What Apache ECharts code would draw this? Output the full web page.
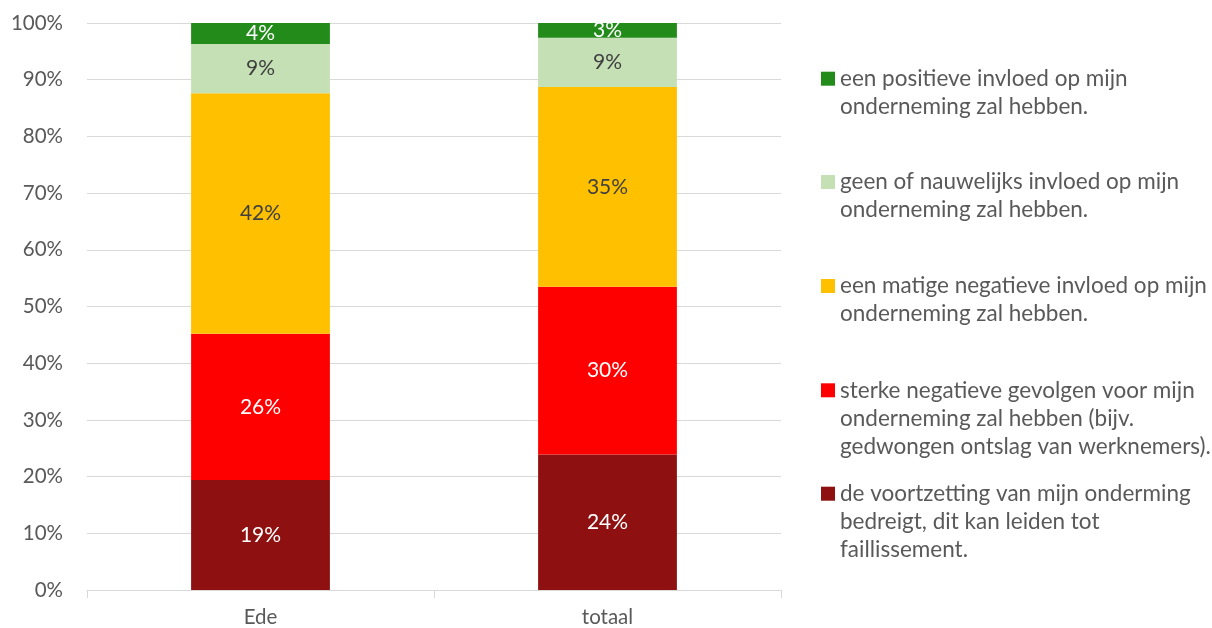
<!DOCTYPE html>
<html><head><meta charset="utf-8">
<script src="https://cdn.jsdelivr.net/npm/echarts@6/dist/echarts.min.js"></script>
<style>html,body{margin:0;padding:0;background:#fff}#c{width:1212px;height:628px}</style>
</head><body><div id="c"></div>
<script>
const categories = ['Ede', 'totaal'];
const seriesNames = [
  'de voortzetting van mijn onderming\nbedreigt, dit kan leiden tot\nfaillissement.',
  'sterke negatieve gevolgen voor mijn\nonderneming zal hebben (bijv.\ngedwongen ontslag van werknemers).',
  'een matige negatieve invloed op mijn\nonderneming zal hebben.',
  'geen of nauwelijks invloed op mijn\nonderneming zal hebben.',
  'een positieve invloed op mijn\nonderneming zal hebben.'
];
const voortzetting = [19.4, 23.9];
const sterkeNegatief = [25.8, 29.6];
const matigNegatief = [42.4, 35.2];
const geenInvloed = [8.7, 8.7];
const positief = [3.7, 2.6];
const yTicks = [0, 10, 20, 30, 40, 50, 60, 70, 80, 90, 100];

const values = [voortzetting, sterkeNegatief, matigNegatief, geenInvloed, positief];
const colors = ['#8E1010', '#FF0000', '#FFC000', '#C5E0B4', '#228B1A'];
const labelColors = ['#ffffff', '#ffffff', '#404040', '#404040', '#ffffff'];
const FONT = 'Lato';
const LH = 28;

const series = values.map((v, i) => ({
  name: seriesNames[i],
  type: 'bar',
  stack: 'total',
  barWidth: '40%',
  data: v,
  itemStyle: { color: colors[i] },
  label: {
    show: true,
    position: 'inside',
    color: labelColors[i],
    fontFamily: FONT,
    fontSize: 21,
    formatter: p => Math.round(p.value) + '%'
  }
}));

// legend, top to bottom: reverse of stack order; each item its own legend so the
// square sits beside the first text line (blank lines above balance the lines below)
const legendCenters = [78.7, 182, 286, 390.3, 493.7];
const legendOrder = [4, 3, 2, 1, 0];
const legends = legendOrder.map((si, k) => {
  const n = seriesNames[si].split('\n').length;
  const pad = '\n'.repeat(n - 1);
  return {
    show: true,
    orient: 'vertical',
    left: 821,
    top: legendCenters[k] - (2 * n - 1) * LH / 2,
    padding: 0,
    itemWidth: 14,
    itemHeight: 14,
    itemGap: 0,
    icon: 'rect',
    selectedMode: false,
    data: [seriesNames[si]],
    formatter: name => pad + name,
    textStyle: {
      fontFamily: FONT,
      fontSize: 22.5,
      color: '#595959',
      lineHeight: LH
    }
  };
});

const chart = echarts.init(document.getElementById('c'));
chart.setOption({
  animation: false,
  grid: { left: 87, right: 431, top: 23, bottom: 37 },
  legend: legends,
  xAxis: {
    type: 'category',
    data: categories,
    axisLine: { lineStyle: { color: '#D9D9D9', width: 1 } },
    axisTick: { show: true, alignWithLabel: false, length: 8, lineStyle: { color: '#D9D9D9' } },
    axisLabel: { color: '#595959', fontFamily: FONT, fontSize: 20.5, margin: 17 }
  },
  yAxis: {
    type: 'value',
    min: 0, max: 100, interval: 10,
    axisLine: { show: false },
    axisTick: { show: false },
    splitLine: { lineStyle: { color: '#D9D9D9', width: 1 } },
    axisLabel: {
      color: '#595959', fontFamily: FONT, fontSize: 20.5, margin: 24,
      formatter: v => yTicks.includes(v) ? v + '%' : ''
    }
  },
  series: series
});
</script>
</body></html>
